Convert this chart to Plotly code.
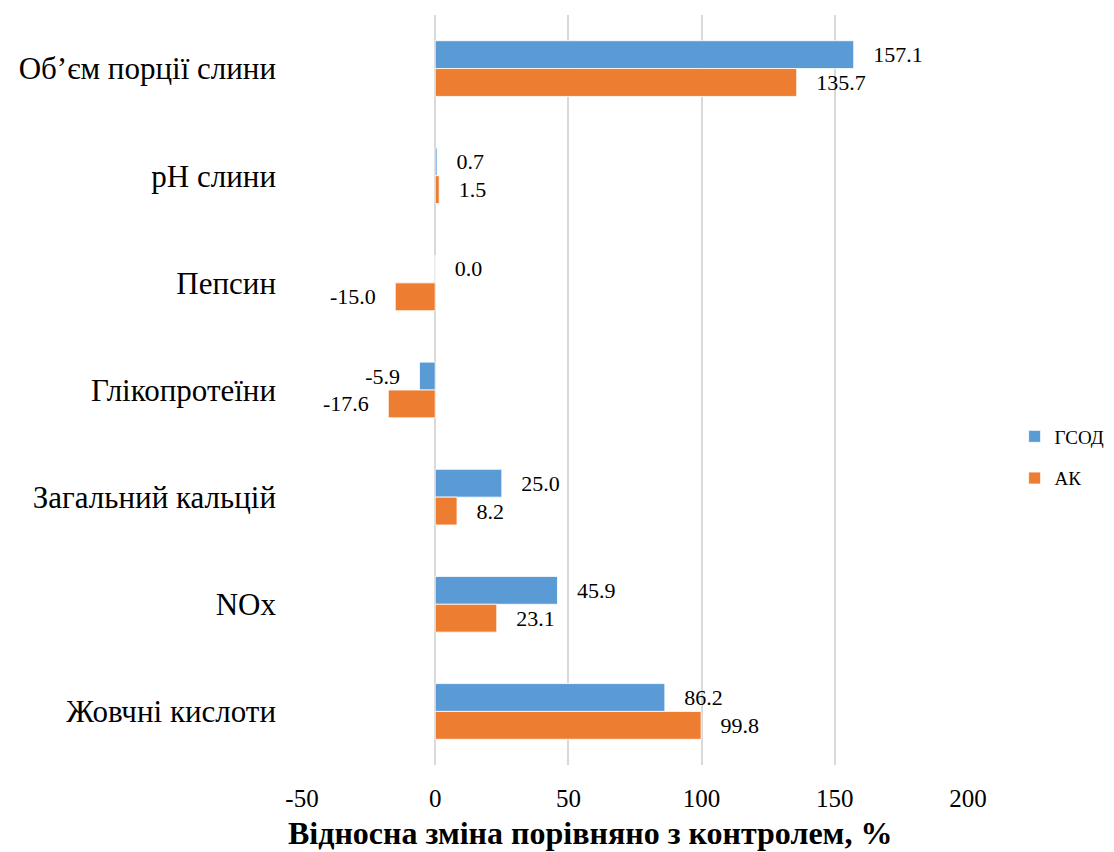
import plotly.graph_objects as go

# Показники, зверху вниз
categories = [
    "Об’єм порції слини",
    "pH слини",
    "Пепсин",
    "Глікопротеїни",
    "Загальний кальцій",
    "NOx",
    "Жовчні кислоти",
]

# Відносна зміна порівняно з контролем, %
gsod_values = [157.1, 0.7, 0.0, -5.9, 25.0, 45.9, 86.2]
ak_values = [135.7, 1.5, -15.0, -17.6, 8.2, 23.1, 99.8]

series_names = ["ГСОД", "АК"]
series_colors = ["#5B9BD5", "#ED7D31"]

x_ticks = [-50, 0, 50, 100, 150, 200]
x_title = "Відносна зміна порівняно з контролем, %"

FONT = "Liberation Serif"
PAD = "\u00a0" * 3


def label_texts(values):
    # Excel-style padding between bar end and value label
    return [PAD + f"{v:.1f}" if v >= 0 else f"{v:.1f}" + PAD for v in values]


fig = go.Figure()
for name, vals, color in zip(series_names, [gsod_values, ak_values], series_colors):
    fig.add_trace(
        go.Bar(
            name=name,
            legendgroup=name,
            y=categories,
            x=vals,
            orientation="h",
            marker=dict(color=color, line=dict(color="white", width=0.8)),
            text=label_texts(vals),
            texttemplate="%{text}",
            textposition="outside",
            constraintext="none",
            cliponaxis=False,
            textfont=dict(family=FONT, size=22, color="#000000"),
        )
    )

fig.update_layout(
    width=1114,
    height=852,
    margin=dict(l=302, r=146, t=15, b=87, autoexpand=False),
    paper_bgcolor="white",
    plot_bgcolor="white",
    barmode="group",
    bargap=0.48,
    bargroupgap=0,
    font=dict(family=FONT, color="#000000"),
    legend=dict(
        x=1.07,
        y=0.41,
        xanchor="left",
        yanchor="middle",
        font=dict(family=FONT, size=19, color="#000000"),
        itemwidth=30,
        tracegroupgap=14,
        bgcolor="rgba(0,0,0,0)",
    ),
    showlegend=True,
    annotations=[
        dict(
            text=f"<b>{x_title}</b>",
            xref="paper",
            yref="paper",
            x=0.432,
            y=-0.09,
            xanchor="center",
            yanchor="middle",
            showarrow=False,
            font=dict(family=FONT, size=32, color="#000000"),
        )
    ],
)

fig.update_xaxes(
    range=[-50, 200],
    tickvals=x_ticks,
    ticktext=[str(t) for t in x_ticks],
    showgrid=True,
    gridcolor="#D9D9D9",
    gridwidth=1.5,
    zeroline=False,
    showline=False,
    ticks="",
    ticklabelstandoff=16,
    tickfont=dict(family=FONT, size=25, color="#000000"),
)

fig.update_yaxes(
    autorange="reversed",
    showgrid=False,
    zeroline=False,
    showline=False,
    ticks="",
    ticklabelstandoff=25,
    tickfont=dict(family=FONT, size=31, color="#000000"),
)

fig.write_html("out.html")
